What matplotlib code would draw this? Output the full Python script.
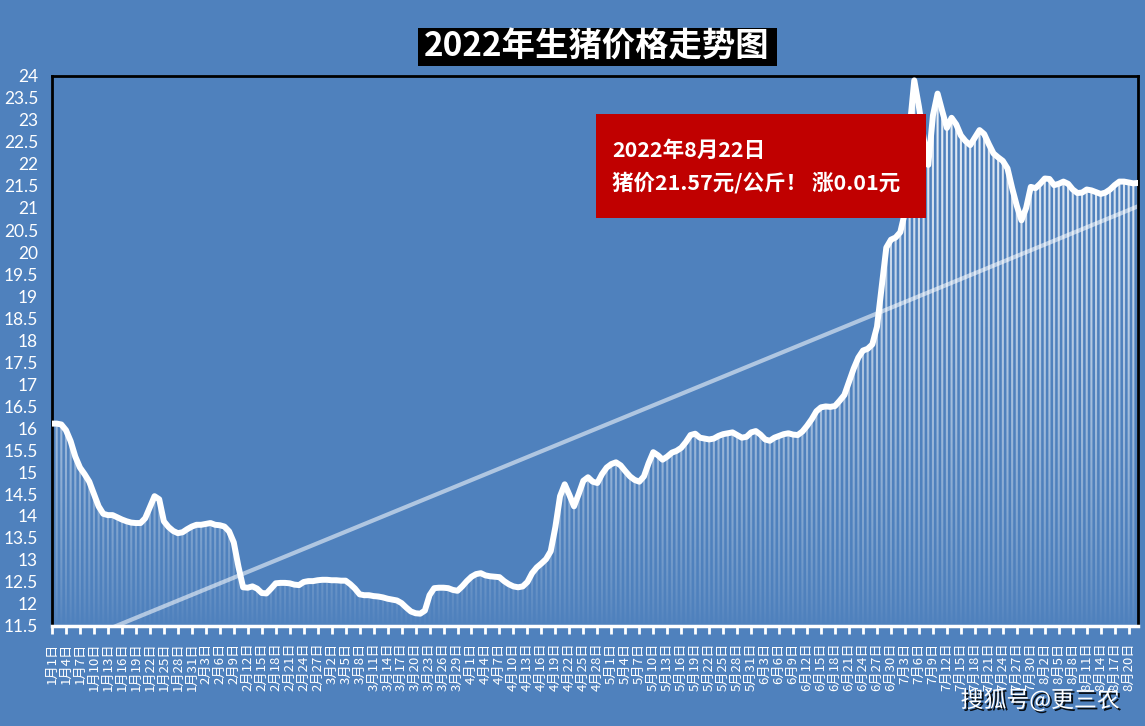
import numpy as np
import pandas as pd
import matplotlib
matplotlib.use("Agg")
from matplotlib import pyplot as plt
from matplotlib.path import Path
from matplotlib.patches import PathPatch, Rectangle
import matplotlib.patheffects as pe

plt.rcParams["font.family"] = ["Noto Sans CJK SC", "DejaVu Sans"]

# ==================== Data (daily price, yuan/kg) ====================
jan = [16.10, 16.10, 16.08, 15.95, 15.70, 15.35, 15.10, 14.95, 14.78, 14.50, 14.22,
       14.05, 14.02, 14.02, 13.97, 13.92, 13.88, 13.85, 13.84, 13.84, 13.95, 14.20,
       14.45, 14.38, 13.88, 13.75, 13.66, 13.61, 13.63, 13.70, 13.76]
feb = [13.80, 13.80, 13.82, 13.84, 13.80, 13.79, 13.76, 13.65, 13.40, 12.85, 12.38,
       12.37, 12.40, 12.35, 12.25, 12.24, 12.35, 12.47, 12.48, 12.48, 12.47, 12.44,
       12.43, 12.50, 12.52, 12.52, 12.54, 12.55]
mar = [12.55, 12.54, 12.54, 12.53, 12.53, 12.45, 12.35, 12.22, 12.20, 12.20, 12.18,
       12.17, 12.15, 12.12, 12.10, 12.08, 12.02, 11.92, 11.83, 11.79, 11.78, 11.85,
       12.20, 12.36, 12.37, 12.37, 12.36, 12.32, 12.30, 12.40, 12.52]
apr = [12.62, 12.68, 12.70, 12.65, 12.63, 12.62, 12.61, 12.52, 12.45, 12.40, 12.38,
       12.40, 12.50, 12.70, 12.83, 12.92, 13.02, 13.20, 13.75, 14.45, 14.72, 14.48,
       14.22, 14.50, 14.80, 14.88, 14.78, 14.75, 14.95, 15.10]
may = [15.18, 15.22, 15.15, 15.02, 14.90, 14.82, 14.78, 14.90, 15.20, 15.45, 15.38,
       15.28, 15.35, 15.44, 15.48, 15.55, 15.68, 15.84, 15.87, 15.78, 15.76, 15.74,
       15.76, 15.82, 15.86, 15.88, 15.90, 15.84, 15.78, 15.80, 15.90]
jun = [15.93, 15.85, 15.74, 15.71, 15.78, 15.82, 15.86, 15.88, 15.85, 15.84, 15.92,
       16.05, 16.20, 16.38, 16.47, 16.49, 16.48, 16.50, 16.62, 16.75, 17.05, 17.35,
       17.60, 17.76, 17.80, 17.90, 18.30, 19.20, 20.10, 20.28]
jul = [20.33, 20.45, 20.90, 22.80, 23.90, 23.30, 22.60, 21.98, 23.10, 23.60, 23.20,
       22.82, 23.05, 22.90, 22.65, 22.52, 22.43, 22.60, 22.77, 22.68, 22.45, 22.24,
       22.15, 22.07, 21.90, 21.45, 21.05, 20.72, 21.00, 21.48, 21.45]
aug = [21.55, 21.67, 21.66, 21.52, 21.55, 21.60, 21.55, 21.42, 21.34, 21.35, 21.42,
       21.40, 21.36, 21.32, 21.35, 21.42, 21.52, 21.60, 21.60, 21.58, 21.56, 21.57]

prices = np.array(jan + feb + mar + apr + may + jun + jul + aug)
dates = pd.date_range("2022-01-01", periods=len(prices), freq="D")
tick_days = np.arange(0, len(prices), 3)
tick_labels = [f"{dates[i].month}月{dates[i].day}日" for i in tick_days]
yticks = np.arange(11.5, 24.01, 0.5)

title = "2022年生猪价格走势图"
note_line1 = "2022年8月22日"
note_line2 = "猪价21.57元/公斤！ 涨0.01元"
watermark = "搜狐号@更三农"

bg = "#4F81BD"
ymin, ymax = 11.5, 24

# ==================== Figure ====================
fig = plt.figure(figsize=(11.45, 7.26), dpi=100, facecolor=bg)
ax = fig.add_axes([52 / 1145, 1 - 626 / 726, (1138 - 52) / 1145, 550 / 726])
ax.set_facecolor(bg)

x = np.arange(len(prices))

# thin gradient bars under the line
bw = 0.45
verts, codes = [], []
for i, v in enumerate(prices):
    verts += [(i - bw / 2, ymin), (i - bw / 2, v), (i + bw / 2, v), (i + bw / 2, ymin), (i - bw / 2, ymin)]
    codes += [Path.MOVETO, Path.LINETO, Path.LINETO, Path.LINETO, Path.CLOSEPOLY]
clip = PathPatch(Path(verts, codes), transform=ax.transData, facecolor="none", edgecolor="none")
ax.add_patch(clip)
grad = np.ones((256, 1, 4))
grad[:, 0, 3] = 0.92 * np.linspace(0, 1, 256) ** 0.7
im = ax.imshow(grad, extent=[-1, len(prices), ymin, ymax], origin="lower", aspect="auto",
               interpolation="bilinear", zorder=1)
im.set_clip_path(clip)

# trend line
k, b = np.polyfit(x, prices, 1)
ax.plot(x, k * x + b, color="white", alpha=0.55, lw=3, solid_capstyle="butt", zorder=2)

# price line
ax.plot(x, prices, color="white", lw=4.3, solid_joinstyle="round", solid_capstyle="round", zorder=3)

ax.set_xlim(0, len(prices) - 1)
ax.set_ylim(ymin, ymax)
ax.set_yticks(yticks)
ax.set_yticklabels([f"{t:g}" for t in yticks], fontfamily="Lato", fontsize=12.5, color="white")
ax.tick_params(axis="y", length=0, pad=10)
ax.set_xticks(tick_days)
ax.set_xticklabels(tick_labels, rotation=90, fontsize=9.5, color="white", va="top", ha="center")
ax.tick_params(axis="x", direction="out", length=6, width=2, color="white", pad=6)

for side in ["left", "top", "right"]:
    ax.spines[side].set_color("black")
    ax.spines[side].set_linewidth(2)
ax.spines["bottom"].set_color("white")
ax.spines["bottom"].set_linewidth(2.5)

# title
fig.add_artist(Rectangle((418 / 1145, 1 - 66 / 726), 359 / 1145, 38 / 726,
                         transform=fig.transFigure, facecolor="black", edgecolor="none", zorder=5))
fig.text(597 / 1145, 1 - 47 / 726, title, ha="center", va="center", fontsize=24,
         fontweight="bold", color="white", zorder=6)

# red note box
fig.add_artist(Rectangle((596 / 1145, 1 - 218 / 726), 330 / 1145, 104 / 726,
                         transform=fig.transFigure, facecolor="#C00000", edgecolor="none", zorder=5))
fig.text(612 / 1145, 1 - 150 / 726, note_line1, ha="left", va="center", fontsize=15.5,
         fontweight="bold", color="white", zorder=6)
fig.text(612 / 1145, 1 - 183 / 726, note_line2, ha="left", va="center", fontsize=15.5,
         fontweight="bold", color="white", zorder=6)

# watermark
fig.text(1040 / 1145, 1 - 700 / 726, watermark, ha="center", va="center", fontsize=16.5,
         color="white", zorder=6,
         path_effects=[pe.withSimplePatchShadow(offset=(1.5, -1.5), shadow_rgbFace="black", alpha=0.9)])

plt.savefig("out.png", dpi=100, facecolor=bg)
